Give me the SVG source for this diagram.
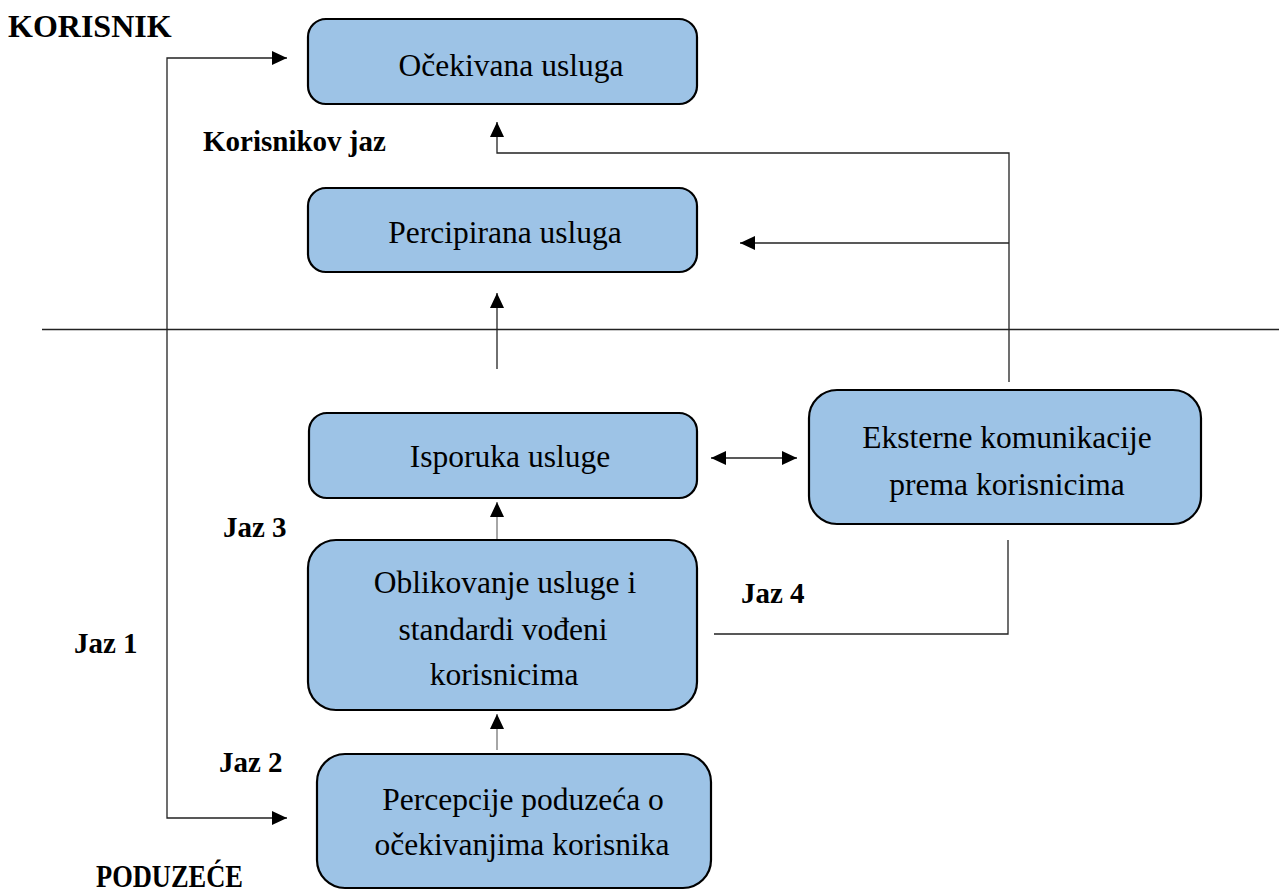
<svg xmlns="http://www.w3.org/2000/svg" width="1279" height="895" viewBox="0 0 1279 895" font-family="Liberation Serif, Times New Roman, DejaVu Serif, serif">
<style>
.box{fill:#9DC3E6;stroke:#000;stroke-width:2.2}
.t{font-size:31.5px;fill:#000;text-anchor:middle}
.b{font-size:29px;font-weight:bold;fill:#000}
.ln{fill:none;stroke:#222;stroke-width:1.3}
.gl{fill:none;stroke:#888;stroke-width:1.5}
</style>
<defs>
<marker id="ah" markerUnits="userSpaceOnUse" markerWidth="16" markerHeight="14" refX="15" refY="7" orient="auto">
<path d="M0,0 L15,7 L0,14 Z" fill="#000"/>
</marker>
<marker id="as" markerUnits="userSpaceOnUse" markerWidth="17" markerHeight="14" refX="1" refY="7" orient="auto">
<path d="M16,0 L1,7 L16,14 Z" fill="#000"/>
</marker>
</defs>
<rect width="1279" height="895" fill="#fff"/>
<g id="labels">
<text class="b" x="8" y="37" style="font-size:32px">KORISNIK</text>
<text class="b" x="203" y="151">Korisnikov jaz</text>
<text class="b" x="74" y="653">Jaz 1</text>
<text class="b" x="219" y="772">Jaz 2</text>
<text class="b" x="223" y="537">Jaz 3</text>
<text class="b" x="741" y="603">Jaz 4</text>
<text class="b" x="96" y="887" style="font-size:32px" textLength="147" lengthAdjust="spacingAndGlyphs">PODUZEĆE</text>
</g>
<g id="connectors">
<line class="ln" x1="42" y1="329.5" x2="1279" y2="329.5" stroke-width="2"/>
<path class="ln" d="M287,58 H167 V818 H287" marker-start="url(#as)" marker-end="url(#ah)"/>
<path class="ln" d="M1009,382 V153 H497 V122" marker-end="url(#ah)"/>
<path class="ln" d="M1009,243 H740" marker-end="url(#ah)"/>
<path class="ln" d="M497,369 V293" marker-end="url(#ah)"/>
<path class="ln" d="M711,458 H797" marker-start="url(#as)" marker-end="url(#ah)"/>
<path class="gl" d="M497,540 V502" marker-end="url(#ah)"/>
<path class="gl" d="M497,750 V714" marker-end="url(#ah)"/>
<path class="ln" d="M1008,540 V634 H714"/>
</g>
<g id="n1"><rect class="box" x="308" y="19" width="389" height="85" rx="18"/><text class="t" x="511" y="76">Očekivana usluga</text></g>
<g id="n2"><rect class="box" x="308" y="188" width="389" height="84" rx="18"/><text class="t" x="505" y="243">Percipirana usluga</text></g>
<g id="n3"><rect class="box" x="309" y="413" width="388" height="85" rx="18"/><text class="t" x="510" y="467">Isporuka usluge</text></g>
<g id="n4"><rect class="box" x="308" y="540" width="389" height="170" rx="28"/><text class="t" x="505" y="593">Oblikovanje usluge i</text><text class="t" x="503" y="640">standardi vođeni</text><text class="t" x="504" y="685">korisnicima</text></g>
<g id="n5"><rect class="box" x="317" y="754" width="394" height="134" rx="28"/><text class="t" x="523" y="810">Percepcije poduzeća o</text><text class="t" x="522" y="855">očekivanjima korisnika</text></g>
<g id="n6"><rect class="box" x="809" y="390" width="392" height="134" rx="28"/><text class="t" x="1007" y="448">Eksterne komunikacije</text><text class="t" x="1007" y="495">prema korisnicima</text></g>
</svg>
